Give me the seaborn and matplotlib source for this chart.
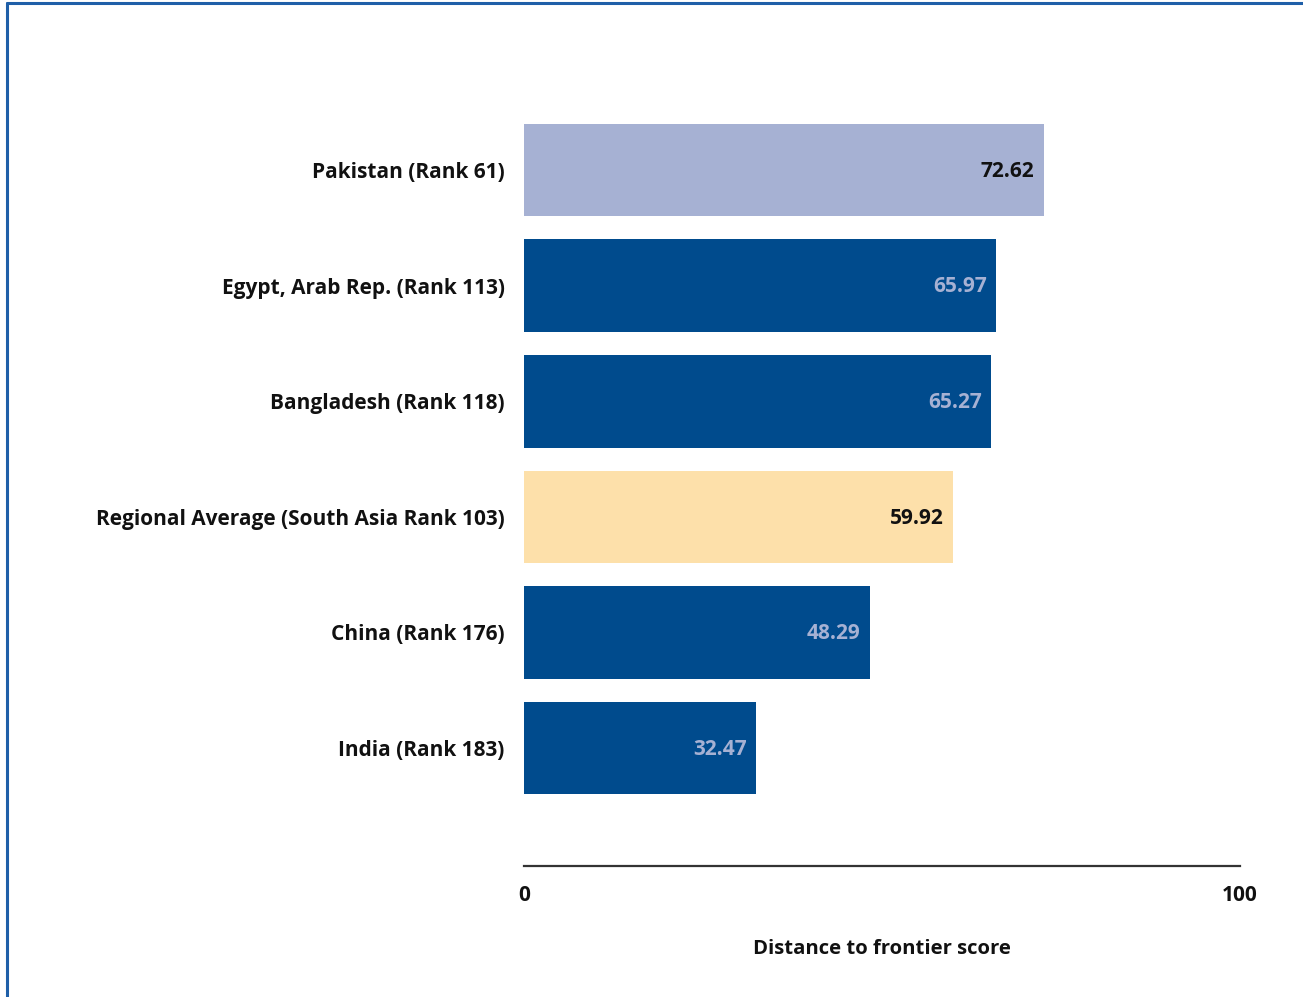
import matplotlib
matplotlib.use("Agg")
import matplotlib.pyplot as plt
from matplotlib.lines import Line2D
import seaborn as sns
import pandas as pd

# Economies and their distance-to-frontier scores
economies = [
    "Pakistan (Rank 61)",
    "Egypt, Arab Rep. (Rank 113)",
    "Bangladesh (Rank 118)",
    "Regional Average (South Asia Rank 103)",
    "China (Rank 176)",
    "India (Rank 183)",
]
scores = [72.62, 65.97, 65.27, 59.92, 48.29, 32.47]
bar_colors = ["#a6b1d3", "#004b8d", "#004b8d", "#fde0aa", "#004b8d", "#004b8d"]
label_colors = ["#111111", "#a6b1d3", "#a6b1d3", "#111111", "#a6b1d3", "#a6b1d3"]
x_ticks = [0, 100]
x_title = "Distance to frontier score"

sns.set_theme(style="white")
plt.rcParams["font.family"] = ["Open Sans", "DejaVu Sans"]

df = pd.DataFrame({"economy": economies, "score": scores})

fig = plt.figure(figsize=(13.03, 9.97), dpi=100)
ax = fig.add_axes([524 / 1303, 1 - 866 / 997, (1240 - 524) / 1303, (866 - 100) / 997])

sns.barplot(data=df, x="score", y="economy", hue="economy",
            palette=dict(zip(economies, bar_colors)), legend=False,
            width=0.8, saturation=1, ax=ax, linewidth=0)

for i, (v, c) in enumerate(zip(scores, label_colors)):
    ax.text(v - 1.35, i + 0.01, f"{v:.2f}", ha="right", va="center",
            fontsize=15, fontweight="bold", color=c)

ax.set_xlim(0, 100)
ax.set_ylim(6.02, -0.606)
ax.set_xticks(x_ticks)
ax.set_xticklabels([str(t) for t in x_ticks], fontsize=15, fontweight="bold", color="#111111")
ax.tick_params(axis="x", length=0, pad=14)
ax.tick_params(axis="y", length=0, pad=14)
for lbl in ax.get_yticklabels():
    lbl.set_fontsize(15)
    lbl.set_fontweight("bold")
    lbl.set_color("#111111")
ax.set_ylabel("")
ax.set_xlabel(x_title, fontsize=14.6, fontweight="bold", color="#111111")
ax.xaxis.set_label_coords(0.5, -0.095)

for side in ["top", "right", "left"]:
    ax.spines[side].set_visible(False)
ax.spines["bottom"].set_color("#333333")
ax.spines["bottom"].set_linewidth(1.6)

# Panel frame along the top and left edges
fig.add_artist(Line2D([7 / 1303, 1], [1 - 3 / 997, 1 - 3 / 997], color="#1f5fa8", lw=2.2))
fig.add_artist(Line2D([7 / 1303, 7 / 1303], [0, 1 - 3 / 997], color="#1f5fa8", lw=2.2))

fig.savefig("out.png", dpi=100, facecolor="white")
